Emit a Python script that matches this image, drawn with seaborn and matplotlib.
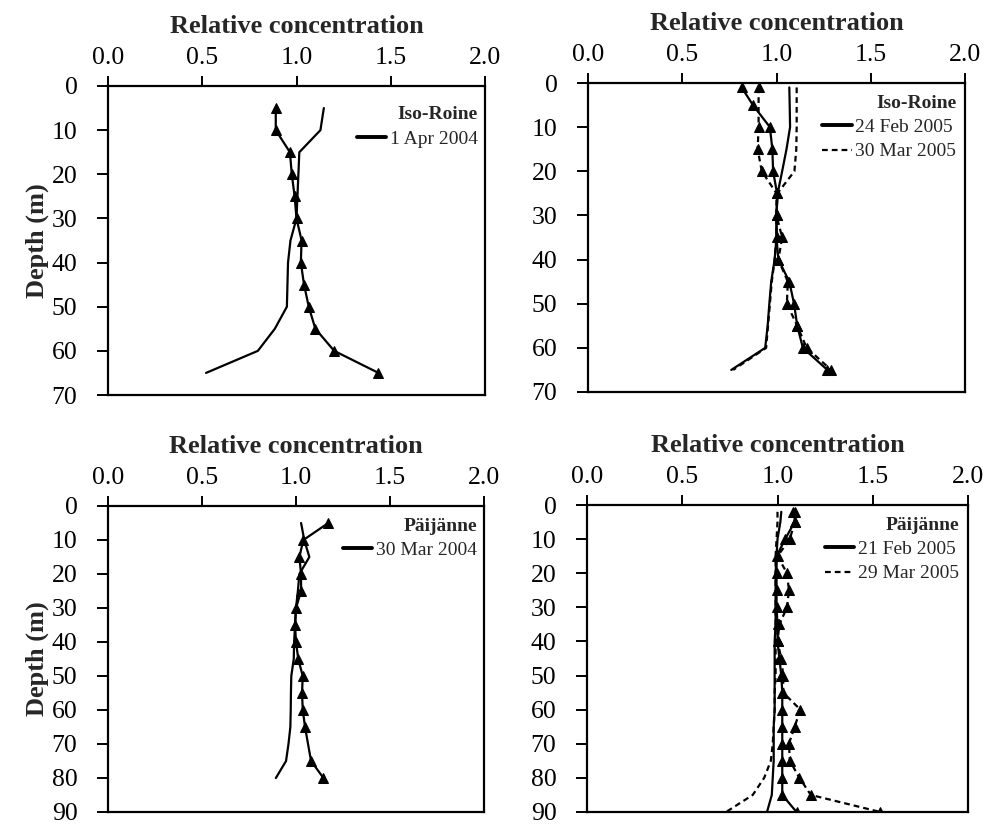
import matplotlib
matplotlib.use("Agg")
import matplotlib.pyplot as plt
import seaborn as sns
import pandas as pd
from matplotlib.lines import Line2D

# ---------------- data ----------------
# Panel 1: Iso-Roine, 1 Apr 2004
p1_depth = [5, 10, 15, 20, 25, 30, 35, 40, 45, 50, 55, 60, 65]
p1_tri = [0.89, 0.89, 0.965, 0.975, 0.99, 1.0, 1.027, 1.023, 1.04, 1.065, 1.10, 1.20, 1.435]
p1_line = [1.145, 1.127, 1.015, 1.01, 1.005, 1.0, 0.968, 0.955, 0.952, 0.949, 0.885, 0.795, 0.52]

# Panel 2: Iso-Roine, 24 Feb 2005 (solid) and 30 Mar 2005 (dashed)
p2_depth = [1, 5, 10, 15, 20, 25, 30, 35, 40, 45, 50, 55, 60, 65]
p2_feb_tri = [0.815, 0.875, 0.965, 0.978, 0.982, 1.003, 1.0, 1.0, 1.01, 1.068, 1.093, 1.11, 1.14, 1.27]
p2_feb_line = [1.068, 1.07, 1.072, 1.053, 1.03, 1.006, 1.0, 1.0, 0.99, 0.972, 0.962, 0.953, 0.94, 0.76]
p2_mar_depth = [1, 10, 15, 20, 25, 30, 35, 40, 45, 50, 55, 60, 65]
p2_mar_tri = [0.905, 0.905, 0.90, 0.922, 1.0, 1.0, 1.03, 1.01, 1.06, 1.055, 1.11, 1.16, 1.29]
p2_mar_line = [1.107, 1.107, 1.107, 1.105, 1.095, 1.005, 1.0, 1.0, 0.99, 0.975, 0.965, 0.955, 0.945, 0.77]

# Panel 3: Päijänne, 30 Mar 2004
p3_tri_depth = [5, 10, 15, 20, 25, 30, 35, 40, 45, 50, 55, 60, 65, 75, 80]
p3_tri = [1.172, 1.039, 1.018, 1.027, 1.027, 1.0, 0.995, 1.0, 1.012, 1.036, 1.032, 1.036, 1.048, 1.08, 1.146]
p3_line_depth = [5, 10, 15, 20, 25, 30, 35, 40, 45, 50, 55, 60, 65, 70, 75, 80]
p3_line = [1.027, 1.044, 1.071, 1.018, 1.01, 1.0, 0.995, 0.99, 0.988, 0.975, 0.973, 0.972, 0.97, 0.96, 0.947, 0.893]

# Panel 4: Päijänne, 21 Feb 2005 (solid) and 29 Mar 2005 (dashed)
p4_depth = [2, 5, 10, 15, 20, 25, 30, 35, 40, 45, 50, 55, 60, 65, 70, 75, 80, 85, 90]
p4_feb_tri = [1.09, 1.09, 1.04, 0.995, 0.995, 0.995, 0.995, 1.0, 1.0, 1.01, 1.02, 1.025, 1.025, 1.025,
              1.025, 1.025, 1.025, 1.025, 1.10]
p4_mar_tri = [1.08, 1.09, 1.065, 1.0, 1.05, 1.06, 1.05, 1.01, 1.0, 1.02, 1.03, 1.03, 1.12, 1.09,
              1.06, 1.065, 1.115, 1.175, 1.54]
p4_feb_line = [1.02, 1.015, 1.0, 0.995, 0.99, 0.99, 0.99, 0.99, 0.985, 0.985, 0.985, 0.985, 0.985,
               0.98, 0.98, 0.98, 0.975, 0.97, 0.945]
p4_mar_line = [1.0, 1.0, 0.995, 0.99, 0.99, 0.99, 0.99, 0.99, 0.99, 0.99, 0.99, 0.985, 0.985, 0.98,
               0.975, 0.965, 0.93, 0.87, 0.73]

x_ticks = [0.0, 0.5, 1.0, 1.5, 2.0]
x_label = "Relative concentration"
y_label = "Depth (m)"

# ---------------- style ----------------
sns.set_theme(style="white")
plt.rcParams["font.family"] = ["Liberation Serif", "DejaVu Serif"]
plt.rcParams["axes.linewidth"] = 1.6
plt.rcParams["axes.edgecolor"] = "black"

fig = plt.figure(figsize=(9.89, 8.25), dpi=100)

pos = [
    [108 / 989, 1 - 395 / 825, 377 / 989, 309 / 825],
    [588 / 989, 1 - 392 / 825, 377 / 989, 309 / 825],
    [108 / 989, 1 - 812 / 825, 376 / 989, 306 / 825],
    [587 / 989, 1 - 812 / 825, 381 / 989, 307 / 825],
]

LW = 1.6
DASH = (2.6, 1.8)
MS = 7


def draw(ax, x, y, dashed=False, marker=None):
    df = pd.DataFrame({"x": x, "y": y})
    kw = dict(color="black", linewidth=LW, sort=False, estimator=None, legend=False)
    if marker:
        kw.update(marker="^", markersize=MS, markeredgecolor="black", markerfacecolor="black")
    sns.lineplot(data=df, x="x", y="y", ax=ax, **kw)
    l = ax.get_lines()[-1]
    if dashed:
        l.set_dashes(DASH)
    return l


def style_axis(ax, ymax, ylabel=True):
    ax.set_xlim(0, 2.0)
    ax.set_ylim(ymax, 0)
    ax.set_xticks(x_ticks)
    ax.set_xticklabels([f"{t:.1f}" for t in x_ticks])
    ax.set_yticks(list(range(0, ymax + 1, 10)))
    ax.xaxis.tick_top()
    ax.xaxis.set_label_position("top")
    ax.set_xlabel(x_label, fontsize=19, fontweight="bold", labelpad=10)
    if ylabel:
        ax.set_ylabel(y_label, fontsize=19, fontweight="bold", labelpad=2)
    else:
        ax.set_ylabel("")
    ax.tick_params(axis="x", which="both", top=True, bottom=False, direction="out",
                   length=7, width=1.4, labelsize=18.5, pad=5, colors="black")
    ax.tick_params(axis="y", which="both", left=True, direction="out",
                   length=8, width=1.4, labelsize=18.5, pad=14, colors="black")
    for s in ax.spines.values():
        s.set_visible(True)
        s.set_color("black")
        s.set_linewidth(1.6)


def legend(ax, title, labels, dashed_flags, anchor):
    handles = []
    for lab, d in zip(labels, dashed_flags):
        h = Line2D([], [], color="black", linewidth=2.8 if not d else 1.6)
        if d:
            h.set_dashes(DASH)
        handles.append(h)
    leg = ax.legend(handles, labels, title=title, loc="upper right", frameon=False,
                    bbox_to_anchor=anchor,
                    fontsize=14, title_fontproperties={"weight": "bold", "size": 14},
                    handlelength=1.5, handletextpad=0.2, borderaxespad=0.3,
                    labelspacing=0.35, alignment="right", borderpad=0.3)
    return leg


# Panel 1
ax1 = fig.add_axes(pos[0])
draw(ax1, p1_line, p1_depth)
draw(ax1, p1_tri, p1_depth, marker=True)
style_axis(ax1, 70)
legend(ax1, "Iso-Roine", ["1 Apr 2004"], [False], (1.012, 0.972))

# Panel 2
ax2 = fig.add_axes(pos[1])
draw(ax2, p2_feb_line, p2_depth)
draw(ax2, p2_mar_line, p2_depth, dashed=True)
draw(ax2, p2_feb_tri, p2_depth, marker=True)
draw(ax2, p2_mar_tri, p2_mar_depth, dashed=True, marker=True)
style_axis(ax2, 70, ylabel=False)
legend(ax2, "Iso-Roine", ["24 Feb 2005", "30 Mar 2005"], [False, True], (1.008, 1.0))

# Panel 3
ax3 = fig.add_axes(pos[2])
draw(ax3, p3_line, p3_line_depth)
draw(ax3, p3_tri, p3_tri_depth, marker=True)
style_axis(ax3, 90)
legend(ax3, "Päijänne", ["30 Mar 2004"], [False], (1.012, 1.0))

# Panel 4
ax4 = fig.add_axes(pos[3])
draw(ax4, p4_feb_line, p4_depth)
draw(ax4, p4_mar_line, p4_depth, dashed=True)
draw(ax4, p4_feb_tri, p4_depth, marker=True)
draw(ax4, p4_mar_tri, p4_depth, dashed=True, marker=True)
style_axis(ax4, 90, ylabel=False)
legend(ax4, "Päijänne", ["21 Feb 2005", "29 Mar 2005"], [False, True], (1.008, 1.0))

fig.savefig("out.png", dpi=100, facecolor="white")
